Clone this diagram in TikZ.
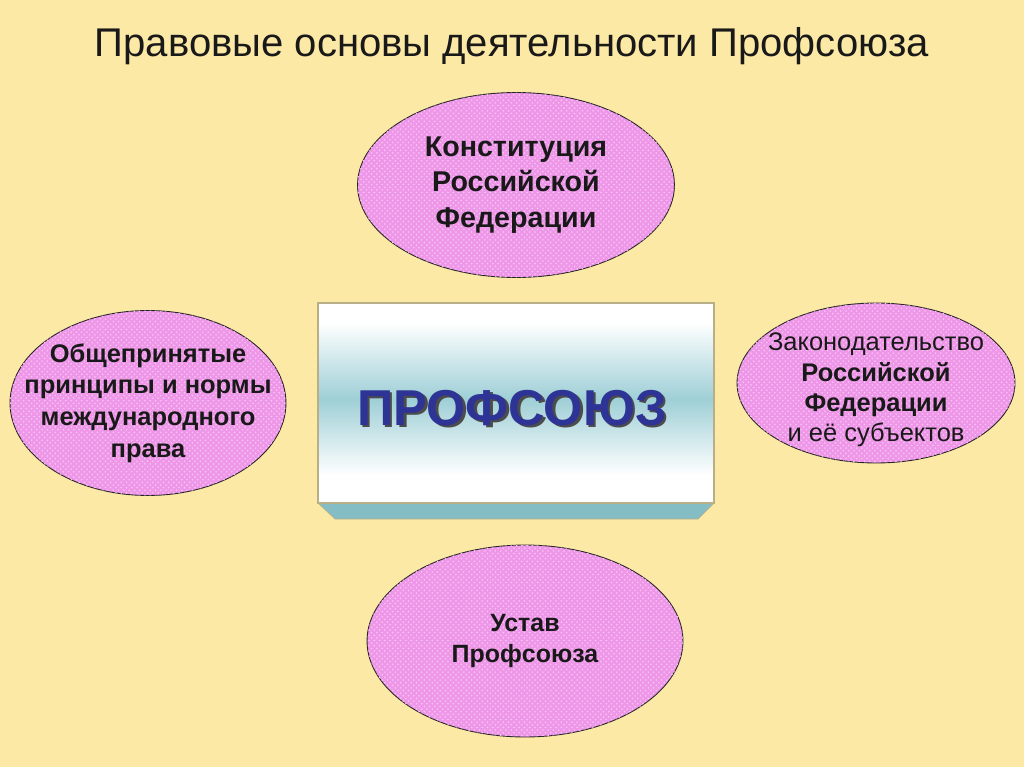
\documentclass[tikz,border=0pt]{standalone}
\usepackage{fontspec}
\setmainfont{Liberation Sans}
\usetikzlibrary{shapes.geometric,patterns}
\definecolor{paper}{RGB}{253,233,166}
\definecolor{pinkfill}{RGB}{238,150,232}
\definecolor{pinkdot}{RGB}{250,200,245}
\definecolor{boxteal}{RGB}{158,207,214}
\definecolor{bevelteal}{RGB}{132,190,196}
\definecolor{boxedge}{RGB}{185,175,135}
\definecolor{unionblue}{RGB}{46,52,150}
\pgfdeclareverticalshading{boxshade}{100bp}{color(0bp)=(white); color(32bp)=(white); color(51bp)=(boxteal); color(70bp)=(white); color(100bp)=(white)}
\tikzset{
  oval/.style={ellipse, draw=black!85, line width=0.5pt, fill=pinkfill,
    postaction={pattern=crosshatch dots, pattern color=pinkdot}, inner sep=0pt},
  ovaltext/.style={align=center, text=black!90},
}
\begin{document}
\begin{tikzpicture}[x=0.02cm, y=-0.02cm]
		%%%%% START %%%%%
		\useasboundingbox[fill=paper] (0,0) rectangle (1024,767);
		
		\node[anchor=base, font=\fontsize{22.8}{26}\selectfont, text=black!90] (title) at (512,57) {Правовые основы деятельности Профсоюза};
		
		% ovals
		\node[oval, minimum width=6.34cm, minimum height=3.7cm] (constit) at (516,185) {};
		\node[oval, minimum width=5.52cm, minimum height=3.7cm] (intlaw) at (148,403) {};
		\node[oval, minimum width=5.56cm, minimum height=3.2cm] (legis) at (876,383) {};
		\node[oval, minimum width=6.32cm, minimum height=3.84cm] (charter) at (525,641) {};
		
		\node[ovaltext, font=\bfseries\fontsize{16.3}{20.3}\selectfont] (constittext) at (constit.center) {Конституция\\Российской\\Федерации};
		\node[ovaltext, font=\bfseries\fontsize{14.5}{18}\selectfont] (intlawtext) at (intlaw.center) {Общепринятые\\принципы и нормы\\международного\\права};
		\node[ovaltext, font=\fontsize{14.5}{17.2}\selectfont] (legistext) at ([yshift=-0.14cm]legis.center) {Законодательство\\\textbf{Российской}\\\textbf{Федерации}\\и её субъектов};
		\node[ovaltext, font=\bfseries\fontsize{14.2}{18.2}\selectfont] (chartertext) at (charter.center) {Устав\\Профсоюза};
		
		% central box
		\fill[bevelteal, draw=boxedge, line width=0.4pt] (318,503) -- (714,503) -- (698,519) -- (335,519) -- cycle;
		\shade[shading=boxshade] (318,303) rectangle (714,503);
		\draw[boxedge, line width=0.6pt] (318,303) rectangle (714,503);
		\node[font=\bfseries\fontsize{28.7}{30}\selectfont, text=black!70] (unionshadow) at (514.5,410.5) {ПРОФСОЮЗ};
		\node[font=\bfseries\fontsize{28.7}{30}\selectfont, text=unionblue] (union) at (512,408) {ПРОФСОЮЗ};
		
		%%%%% END %%%%%
	\end{tikzpicture}
\end{document}
